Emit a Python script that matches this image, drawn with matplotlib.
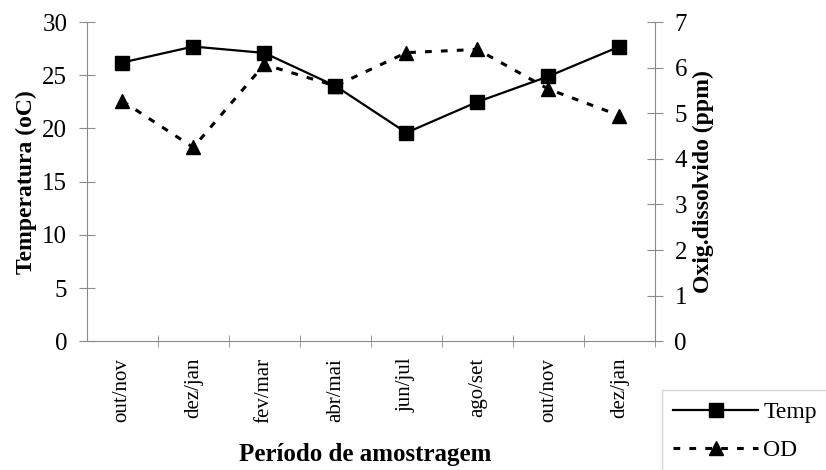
import numpy as np
import matplotlib.pyplot as plt

plt.rcParams['font.family'] = 'Liberation Serif'

# ── dados ──────────────────────────────────────────────
periodos = ['out/nov', 'dez/jan', 'fev/mar', 'abr/mai',
            'jun/jul', 'ago/set', 'out/nov', 'dez/jan']
temp = [26.2, 27.7, 27.1, 24.0, 19.6, 22.5, 24.9, 27.7]
od   = [5.27, 4.25, 6.07, 5.6, 6.33, 6.4, 5.53, 4.95]

AX_COL = '#8a8a8a'

fig = plt.figure(figsize=(8.26, 4.70), dpi=100)
ax = fig.add_axes([0.105, 0.274, 0.688, 0.679])
ax2 = ax.twinx()

x = np.arange(len(periodos))
l1, = ax.plot(x, temp, color='black', lw=1.6, marker='s', ms=10,
              label='Temp')
l2, = ax2.plot(x, od, color='black', lw=2.2, ls=(0, (2.2, 3)),
               marker='^', ms=10, label='OD')

ax.set_xlim(-0.5, len(periodos) - 0.5)
ax.set_ylim(0, 30)
ax2.set_ylim(0, 7)
ax.set_yticks(range(0, 31, 5))
ax2.set_yticks(range(0, 8))

ax.set_xticks(x)
ax.set_xticklabels(periodos, rotation=90, fontsize=15)
ax.set_xticks(np.arange(0.5, len(periodos)), minor=True)
ax.tick_params(axis='x', which='major', length=0, pad=12)
ax.tick_params(axis='x', which='minor', length=8, direction='inout', color=AX_COL)
ax.tick_params(axis='y', length=12, direction='inout', color=AX_COL,
               labelsize=18, pad=8)
ax2.tick_params(axis='y', length=12, direction='inout', color=AX_COL,
                labelsize=18, pad=8)

for a in (ax, ax2):
    a.spines['top'].set_visible(False)
    for s in ('left', 'right', 'bottom'):
        a.spines[s].set_color(AX_COL)
        a.spines[s].set_linewidth(0.8)
ax.spines['right'].set_visible(False)
ax2.spines['left'].set_visible(False)
ax2.spines['bottom'].set_visible(False)

ax.set_ylabel('Temperatura (oC)', fontsize=17, fontweight='bold', labelpad=4)
ax2.set_ylabel('Oxig.dissolvido (ppm)', fontsize=17, fontweight='bold', labelpad=4)
ax.set_xlabel('Período de amostragem', fontsize=18, fontweight='bold', va='center')
ax.xaxis.set_label_coords(0.49, -0.355)

leg = fig.legend(handles=[l1, l2], loc='upper left', bbox_to_anchor=(0.801, 0.17),
                 fontsize=17, handlelength=3.6, frameon=True, fancybox=False,
                 borderpad=0.5, labelspacing=0.7, handletextpad=0.2,
                 borderaxespad=0)
leg.get_frame().set_edgecolor('#cccccc')

fig.savefig('out.png', dpi=100)
